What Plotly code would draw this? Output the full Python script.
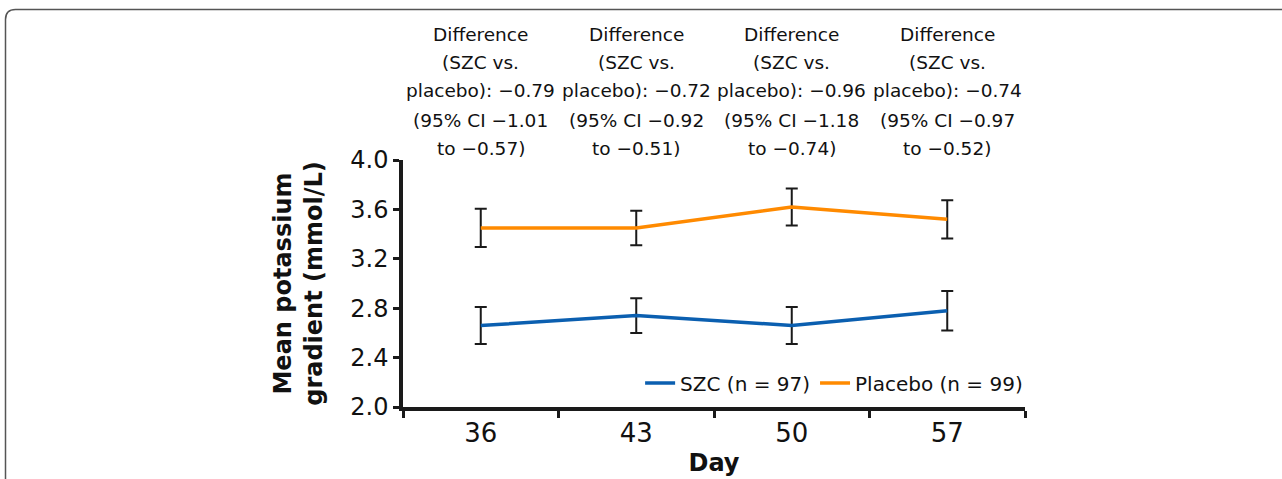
import plotly.graph_objects as go

days = ["36", "43", "50", "57"]
szc_mean = [2.66, 2.74, 2.66, 2.78]
szc_err = [0.15, 0.14, 0.15, 0.16]
pbo_mean = [3.45, 3.45, 3.62, 3.52]
pbo_err = [0.155, 0.14, 0.15, 0.155]
series_names = ["SZC (n = 97)", "Placebo (n = 99)"]
diff_lines = [
    ["Difference", "(SZC vs.", "placebo): \u22120.79", "(95% CI \u22121.01", "to \u22120.57)"],
    ["Difference", "(SZC vs.", "placebo): \u22120.72", "(95% CI \u22120.92", "to \u22120.51)"],
    ["Difference", "(SZC vs.", "placebo): \u22120.96", "(95% CI \u22121.18", "to \u22120.74)"],
    ["Difference", "(SZC vs.", "placebo): \u22120.74", "(95% CI \u22120.97", "to \u22120.52)"],
]

W, H = 1282, 479
L, R, T, B = 403, 257, 160, 72
PW, PH = W - L - R, H - T - B
FONT = "DejaVu Sans"
AX = "#1a1a1a"

def px(x):
    return (x - L) / PW

def py(y):
    return (H - B - y) / PH

fig = go.Figure()
for name, mean, err, color in [
    (series_names[0], szc_mean, szc_err, "#0b5fb0"),
    (series_names[1], pbo_mean, pbo_err, "#ff8a00"),
]:
    fig.add_trace(go.Scatter(
        x=days, y=mean, name=name, mode="lines",
        line=dict(color=color, width=3.5),
        error_y=dict(type="data", array=err, visible=True, color=AX, thickness=2, width=6),
    ))

line_y = [34, 63, 91, 120, 149]
for i, lines in enumerate(diff_lines):
    for j, t in enumerate(lines):
        fig.add_annotation(
            x=i, xref="x", y=py(line_y[j]), yref="paper",
            text=t, showarrow=False, xanchor="center", yanchor="middle",
            font=dict(family=FONT, size=18.5, color="#111111"),
        )

# frame with rounded top-left corner
x0, y0 = px(5.5), py(9.5)
dx, dy = 10 / PW, 10 / PH
fig.add_shape(
    type="path", xref="paper", yref="paper",
    path=f"M {x0},{py(H + 20)} L {x0},{y0 - dy} Q {x0},{y0} {x0 + dx},{y0} L {px(W + 20)},{y0}",
    line=dict(color="#555555", width=1.5),
)

fig.update_layout(
    width=W, height=H,
    margin=dict(l=L, r=R, t=T, b=B, autoexpand=False),
    paper_bgcolor="white", plot_bgcolor="white",
    font=dict(family=FONT, color="#111111"),
    showlegend=True,
    legend=dict(
        orientation="h", x=1.005, xanchor="right", y=py(383), yanchor="middle",
        font=dict(family=FONT, size=20, color="#111111"),
        bgcolor="rgba(0,0,0,0)", itemwidth=30, tracegroupgap=0,
    ),
    xaxis=dict(
        type="category", range=[-0.5, 3.5], tickson="boundaries",
        showline=True, linecolor=AX, linewidth=3.5,
        ticks="outside", ticklen=7, tickwidth=3, tickcolor=AX,
        tickfont=dict(family=FONT, size=26, color="#111111"),
        showgrid=False, zeroline=False,
        title=dict(text="<b>Day</b>", font=dict(family=FONT, size=24, color="#111111"), standoff=8),
    ),
    yaxis=dict(
        range=[2.0, 4.0], tickvals=[2.0, 2.4, 2.8, 3.2, 3.6, 4.0], tickformat=".1f",
        showline=True, linecolor=AX, linewidth=3.5,
        ticks="outside", ticklen=6, tickwidth=3, tickcolor=AX,
        tickfont=dict(family=FONT, size=24, color="#111111"),
        showgrid=False, zeroline=False,
        title=dict(text="<b>Mean potassium<br>gradient (mmol/L)</b>",
                   font=dict(family=FONT, size=24, color="#111111"), standoff=22),
    ),
)

fig.write_html(
    "out.html",
    config={"displayModeBar": False},
    post_script="document.body.style.margin='0';document.body.style.padding='0';",
)
